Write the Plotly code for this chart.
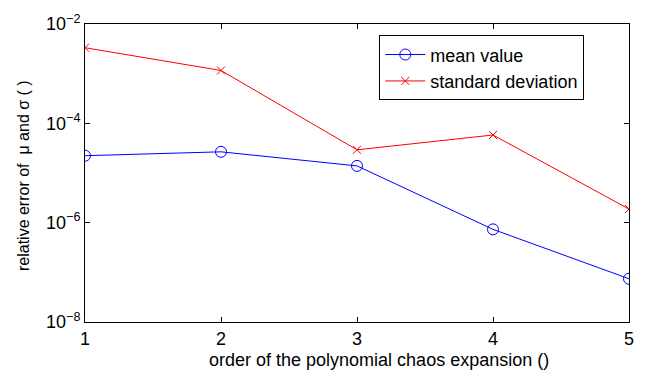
import plotly.graph_objects as go

orders = [1, 2, 3, 4, 5]
mean_err = [2.23e-5, 2.67e-5, 1.39e-5, 7.33e-7, 7.43e-8]
std_err = [3.33e-3, 1.16e-3, 2.93e-5, 5.82e-5, 1.88e-6]
y_tickvals = [1e-8, 1e-6, 1e-4, 1e-2]
y_ticktext = ["10<sup>−8</sup>", "10<sup>−6</sup>", "10<sup>−4</sup>", "10<sup>−2</sup>"]
x_ticks = [1, 2, 3, 4, 5]
x_title = "order of the polynomial chaos expansion ()"
y_title = "relative error of  μ and σ ( )"

FONT = "Liberation Sans, Arial, sans-serif"

fig = go.Figure()
fig.add_trace(go.Scatter(
    x=orders, y=mean_err, mode="lines+markers", name="mean value",
    line=dict(color="#0000ff", width=1),
    marker=dict(symbol="circle-open", size=11, color="#0000ff", line=dict(width=1)),
))
fig.add_trace(go.Scatter(
    x=orders, y=std_err, mode="lines+markers", name="standard deviation",
    line=dict(color="#ff0000", width=1),
    marker=dict(symbol="x-thin-open", size=8, color="#ff0000", line=dict(width=1, color="#ff0000")),
))

axis_common = dict(
    showline=True, linecolor="black", linewidth=1, mirror="ticks",
    ticks="inside", ticklen=5, tickcolor="black", showgrid=False, zeroline=False,
    tickfont=dict(family=FONT, size=18, color="black"),
)

fig.update_layout(
    width=646, height=378,
    margin=dict(l=85, r=16, t=20, b=56),
    paper_bgcolor="white", plot_bgcolor="white",
    font=dict(family=FONT, color="black"),
    xaxis=dict(range=[1, 5], tickvals=x_ticks, **axis_common),
    yaxis=dict(type="log", range=[-8, -2], tickvals=y_tickvals, ticktext=y_ticktext,
               **axis_common),
    legend=dict(x=0.541, y=0.962, xanchor="left", yanchor="top",
                bordercolor="black", borderwidth=1, bgcolor="white",
                font=dict(size=18), tracegroupgap=0, itemwidth=40),
    showlegend=True,
    annotations=[
        dict(text=x_title, xref="paper", yref="paper", x=0.54, y=-0.129,
             xanchor="center", yanchor="middle", showarrow=False,
             font=dict(family=FONT, size=18, color="black")),
        dict(text=y_title, xref="paper", yref="paper", x=-0.112, y=0.49,
             xanchor="center", yanchor="middle", showarrow=False, textangle=-90,
             font=dict(family=FONT, size=16, color="black")),
    ],
)

fig.write_html("out.html")
